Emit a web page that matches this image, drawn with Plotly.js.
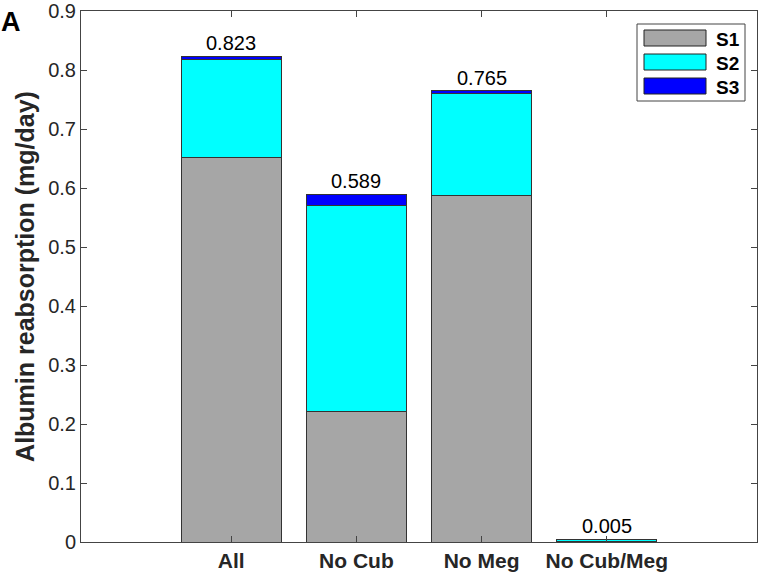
<!DOCTYPE html>
<html><head><meta charset="utf-8">
<script src="https://cdn.plot.ly/plotly-3.0.1.min.js"></script>
<style>body{margin:0;background:#fff}#c{width:760px;height:575px}</style>
</head><body><div id="c"></div>
<script>
const categories = ["All", "No Cub", "No Meg", "No Cub/Meg"];
const xpos = [1, 2, 3, 4];
const s1 = [0.651, 0.222, 0.588, 0.001];
const s2 = [0.167, 0.349, 0.172, 0.0038];
const s3 = [0.005, 0.018, 0.005, 0.0002];
const totals = [0.823, 0.589, 0.765, 0.005];
const totalLabels = ["0.823", "0.589", "0.765", "0.005"];
const seriesNames = ["S1", "S2", "S3"];
const seriesColors = ["#a6a6a6", "#00ffff", "#0000ff"];
const yTicks = [0, 0.1, 0.2, 0.3, 0.4, 0.5, 0.6, 0.7, 0.8, 0.9];
const yTickLabels = ["0", "0.1", "0.2", "0.3", "0.4", "0.5", "0.6", "0.7", "0.8", "0.9"];

const FONT = "Liberation Sans, Arial, Helvetica, sans-serif";
const data = [s1, s2, s3].map((v, i) => ({
  type: "bar", x: xpos, y: v, name: seriesNames[i], width: 0.8,
  marker: {color: seriesColors[i], line: {color: "#333333", width: 1}},
  hoverinfo: "y", showlegend: false
}));

const L = 81, R = 757, T = 11, B = 542;
const px = p => (p - L) / (R - L);
const py = p => (B - p) / (B - T);

const shapes = [
  {type: "rect", xref: "paper", yref: "paper", x0: px(637), x1: px(745), y0: py(101), y1: py(24),
   line: {color: "#444", width: 1}, fillcolor: "#fff"}
];
const legendRows = [[30, 46], [54, 70], [78, 94]];
const annotations = [];
legendRows.forEach((r, i) => {
  shapes.push({type: "rect", xref: "paper", yref: "paper", x0: px(644), x1: px(706), y0: py(r[1]), y1: py(r[0]),
    line: {color: "#222", width: 1}, fillcolor: seriesColors[i]});
  annotations.push({xref: "paper", yref: "paper", x: px(714), y: py((r[0] + r[1]) / 2 + 1), xanchor: "left", yanchor: "middle",
    text: "<b>" + seriesNames[i] + "</b>", showarrow: false, font: {family: FONT, size: 19, color: "#000"}});
});
xpos.forEach((x, i) => {
  annotations.push({x: x, y: totals[i], xref: "x", yref: "y", text: totalLabels[i], showarrow: false,
    yanchor: "bottom", yshift: 0, font: {family: FONT, size: 20, color: "#000"}});
});
annotations.push({xref: "paper", yref: "paper", x: -0.121, y: py(5), xanchor: "left", yanchor: "top",
  text: "<b>A</b>", showarrow: false, font: {family: FONT, size: 27, color: "#000"}});

const layout = {
  width: 760, height: 575,
  margin: {l: L, r: 760 - R, t: T, b: 575 - B},
  barmode: "stack",
  paper_bgcolor: "#fff", plot_bgcolor: "#fff",
  showlegend: false,
  font: {family: FONT, color: "#262626"},
  xaxis: {range: [-0.2, 5.2], tickvals: xpos, ticktext: categories.map(c => "<b>" + c + "</b>"),
    ticks: "inside", ticklen: 6, tickcolor: "#444", showline: true, linecolor: "#444", linewidth: 1,
    mirror: "ticks", showgrid: false, zeroline: false, ticklabeloverflow: "allow",
    tickfont: {family: FONT, size: 21, color: "#262626"}},
  yaxis: {range: [0, 0.9], tickvals: yTicks, ticktext: yTickLabels,
    ticks: "inside", ticklen: 6, tickcolor: "#444", showline: true, linecolor: "#444", linewidth: 1,
    mirror: "ticks", showgrid: false, zeroline: false, ticklabeloverflow: "allow",
    tickfont: {family: FONT, size: 20, color: "#262626"},
    title: {text: "<b>Albumin reabsorption (mg/day)</b>", font: {family: FONT, size: 25, color: "#262626"}, standoff: 6}},
  shapes: shapes, annotations: annotations
};
Plotly.newPlot("c", data, layout, {displayModeBar: false, staticPlot: true});
</script></body></html>
